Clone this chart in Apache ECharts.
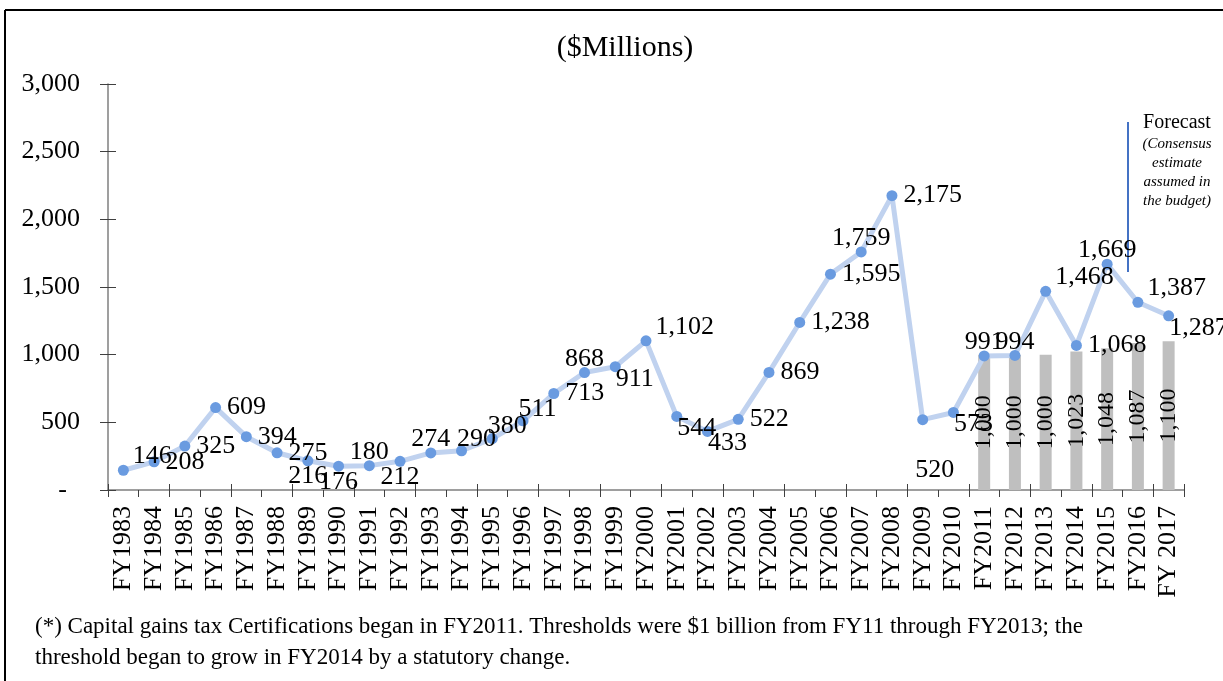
<!DOCTYPE html>
<html>
<head>
<meta charset="utf-8">
<script src="https://cdn.jsdelivr.net/npm/echarts@6/dist/echarts.min.js"></script>
<style>
  html, body { margin: 0; padding: 0; background: #fff; }
  #chart { width: 1223px; height: 681px; }
</style>
</head>
<body>
<div id="chart"></div>
<script>
// fiscal years on the x axis
var years = ['FY1983', 'FY1984', 'FY1985', 'FY1986', 'FY1987', 'FY1988', 'FY1989', 'FY1990',
  'FY1991', 'FY1992', 'FY1993', 'FY1994', 'FY1995', 'FY1996', 'FY1997', 'FY1998', 'FY1999',
  'FY2000', 'FY2001', 'FY2002', 'FY2003', 'FY2004', 'FY2005', 'FY2006', 'FY2007', 'FY2008',
  'FY2009', 'FY2010', 'FY2011', 'FY2012', 'FY2013', 'FY2014', 'FY2015', 'FY2016', 'FY 2017'];

// capital gains collections ($ millions)
var collections = [146, 208, 325, 609, 394, 275, 216, 176, 180, 212, 274, 290, 380, 511, 713,
  868, 911, 1102, 544, 433, 522, 869, 1238, 1595, 1759, 2175, 520, 573, 991, 994, 1468, 1068,
  1669, 1387, 1287];

// certification thresholds, starting FY2011
var thresholds = [null, null, null, null, null, null, null, null, null, null, null, null, null,
  null, null, null, null, null, null, null, null, null, null, null, null, null, null, null,
  1000, 1000, 1000, 1023, 1048, 1087, 1100];

var yTicks = [0, 500, 1000, 1500, 2000, 2500, 3000];

// where each point's label sits (like the Excel label placement)
var labelSide = ['TR', 'R', 'R', 'R', 'R', 'R', 'B', 'B', 'T', 'B', 'T', 'TN', 'TN', 'TN', 'R',
  'T', 'BR', 'TR', 'BR', 'BR', 'R', 'R', 'R', 'R', 'T', 'R', 'BB', 'BR', 'T', 'T', 'TR', 'R',
  'T', 'TR', 'BR'];

var placements = {
  R:  { position: 'right', distance: 6, offset: [0, 0] },
  TR: { position: 'right', distance: 6, offset: [-2, -14] },
  TN: { position: 'right', distance: 6, offset: [-16, -12] },
  BR: { position: 'right', distance: 6, offset: [-11, 12] },
  T:  { position: 'top', distance: 0, offset: [0, 5] },
  B:  { position: 'bottom', distance: 0, offset: [0, -3] },
  BB: { position: 'bottom', distance: 0, offset: [12, 32] }
};

var FONT = 'Liberation Serif';

function fmt(v) {
  if (v === 0) return '-\u00a0\u00a0';
  return v.toLocaleString('en-US');
}

var chart = echarts.init(document.getElementById('chart'));

var lineData = collections.map(function (v, i) {
  return { value: v, label: placements[labelSide[i]] };
});

var option = {
  backgroundColor: '#fff',
  animation: false,
  textStyle: { fontFamily: FONT, color: '#000' },
  grid: { left: 108, right: 39, top: 84, bottom: 191 },
  xAxis: [
    {
      type: 'category',
      data: years,
      axisLine: { lineStyle: { color: '#7f7f7f', width: 1.5 } },
      axisTick: { show: true, length: 7, lineStyle: { color: '#404040' } },
      axisLabel: { interval: 0, rotate: 90, fontSize: 26, color: '#000', fontFamily: FONT, margin: 16 }
    },
    {
      type: 'category',
      data: years,
      position: 'bottom',
      axisLine: { show: false },
      axisTick: { show: true, inside: true, length: 6, lineStyle: { color: '#404040' } },
      axisLabel: { show: false }
    }
  ],
  yAxis: [
    {
      type: 'value',
      min: yTicks[0],
      max: yTicks[yTicks.length - 1],
      interval: 500,
      splitLine: { show: false },
      axisLine: { show: true, lineStyle: { color: '#7f7f7f', width: 1.5 } },
      axisTick: { show: true, length: 8, lineStyle: { color: '#404040' } },
      axisLabel: { fontSize: 26, color: '#000', fontFamily: FONT, margin: 28, formatter: fmt }
    },
    {
      type: 'value',
      position: 'left',
      min: yTicks[0],
      max: yTicks[yTicks.length - 1],
      interval: 500,
      splitLine: { show: false },
      axisLine: { show: false },
      axisTick: { show: true, inside: true, length: 8, lineStyle: { color: '#404040' } },
      axisLabel: { show: false }
    }
  ],
  series: [
    {
      name: 'Threshold',
      type: 'bar',
      data: thresholds,
      barWidth: 12,
      itemStyle: { color: '#bfbfbf' },
      label: {
        show: true,
        position: 'inside',
        rotate: 90,
        fontSize: 24,
        color: '#000',
        fontFamily: FONT,
        formatter: function (p) { return fmt(p.value); }
      },
      z: 1
    },
    {
      name: 'Collections',
      type: 'line',
      data: lineData,
      symbol: 'circle',
      symbolSize: 11,
      lineStyle: { color: '#c0d2ef', width: 5 },
      itemStyle: { color: '#6a9be0' },
      label: {
        show: true,
        fontSize: 26,
        color: '#000',
        fontFamily: FONT,
        formatter: function (p) { return fmt(p.value); }
      },
      z: 5
    }
  ],
  graphic: [
    // frame
    { type: 'line', shape: { x1: 5, y1: 10, x2: 1223, y2: 10 }, style: { stroke: '#000', lineWidth: 2 } },
    { type: 'line', shape: { x1: 5, y1: 10, x2: 5, y2: 681 }, style: { stroke: '#000', lineWidth: 2 } },
    // title
    { type: 'text', x: 625, y: 33, style: { text: '($Millions)', font: '30px "Liberation Serif"', fill: '#000', textAlign: 'center' } },
    // forecast marker
    { type: 'line', shape: { x1: 1128, y1: 122, x2: 1128, y2: 272 }, style: { stroke: '#4472c4', lineWidth: 2 } },
    { type: 'text', x: 1177, y: 113, style: { text: 'Forecast', font: '20px "Liberation Serif"', fill: '#000', textAlign: 'center' } },
    { type: 'text', x: 1177, y: 135, style: {
      text: '(Consensus\nestimate\nassumed in\nthe budget)',
      font: 'italic 15px "Liberation Serif"', lineHeight: 19, fill: '#000', textAlign: 'center' } },
    // footnote
    { type: 'text', x: 35, y: 611, style: {
      text: '(*) Capital gains tax Certifications began in FY2011. Thresholds were $1 billion from FY11 through FY2013; the\nthreshold began to grow in FY2014 by a statutory change.',
      font: '23px "Liberation Serif"', lineHeight: 31, fill: '#000' } }
  ]
};

chart.setOption(option);
</script>
</body>
</html>
